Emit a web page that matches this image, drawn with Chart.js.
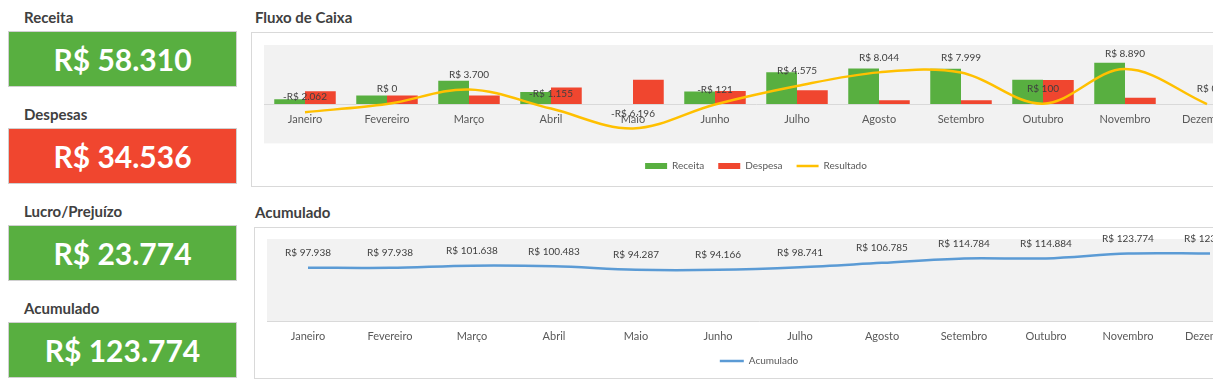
<!DOCTYPE html>
<html>
<head>
<meta charset="utf-8">
<script src="https://cdn.jsdelivr.net/npm/chart.js@4.4.1/dist/chart.umd.min.js"></script>
<style>
  html, body { margin: 0; padding: 0; background: #ffffff; width: 1213px; height: 389px; overflow: hidden; }
  body { position: relative; font-family: Lato, "Open Sans", sans-serif; }
  .lbl { position: absolute; left: 24px; font-weight: 700; font-size: 15px; line-height: 20px; color: #404040; white-space: nowrap; }
  .box { position: absolute; left: 8px; width: 229px; height: 56px; box-sizing: border-box; border: 1px solid #D0D0D0;
         color: #fff; font-weight: 700; font-size: 30px; display: flex; align-items: center; justify-content: center; }
  .title { position: absolute; font-weight: 700; font-size: 15px; line-height: 20px; color: #404040; white-space: nowrap; }
  .frame { position: absolute; box-sizing: border-box; border: 1px solid #D9D9D9; background: #fff; }
  .frame canvas { position: absolute; left: 0; top: 0; }
</style>
</head>
<body>
<div id="kpis"></div>
<div class="title" style="left:255px; top:7px;">Fluxo de Caixa</div>
<div class="frame" style="left:251px; top:32px; width:1014px; height:155px;"><canvas id="c1" width="1012" height="153"></canvas></div>
<div class="title" style="left:255px; top:202px;">Acumulado</div>
<div class="frame" style="left:254px; top:227px; width:1012px; height:152px;"><canvas id="c2" width="1010" height="150"></canvas></div>
<script>
// ---- Data ----
const months = ['Janeiro','Fevereiro','Março','Abril','Maio','Junho','Julho','Agosto','Setembro','Outubro','Novembro','Dezembro'];
const receita   = [1200, 2200, 5900, 3045, 0, 3200, 8100, 9000, 8960, 6200, 10505, 0];
const despesa   = [3262, 2200, 2200, 4200, 6196, 3321, 3525, 956, 961, 6100, 1615, 0];
const resultado = [-2062, 0, 3700, -1155, -6196, -121, 4575, 8044, 7999, 100, 8890, 0];
const acumulado = [97938, 97938, 101638, 100483, 94287, 94166, 98741, 106785, 114784, 114884, 123774, 123774];
const kpiLabels = ['Receita', 'Despesas', 'Lucro/Prejuízo', 'Acumulado'];
const kpiValues = [58310, 34536, 23774, 123774];
const kpiColors = ['#58AF40', '#F0462F', '#58AF40', '#58AF40'];

const GREEN = '#58AF40', RED = '#F0462F', YELLOW = '#FFC000', BLUE = '#5B9BD5';

function brl(v) {
  const s = Math.abs(Math.round(v)).toString().replace(/\B(?=(\d{3})+(?!\d))/g, '.');
  return (v < 0 ? '-R$ ' : 'R$ ') + s;
}

// KPI boxes
const kpiDiv = document.getElementById('kpis');
kpiLabels.forEach((l, i) => {
  const top = 31 + i * 97;
  const a = document.createElement('div');
  a.className = 'lbl'; a.style.top = (top - 24) + 'px'; a.textContent = l;
  const b = document.createElement('div');
  b.className = 'box'; b.style.top = top + 'px'; b.style.background = kpiColors[i]; b.textContent = brl(kpiValues[i]);
  kpiDiv.appendChild(a); kpiDiv.appendChild(b);
});

const plotBg = {
  id: 'plotBg',
  beforeDraw(chart) {
    const {ctx, chartArea: a} = chart;
    ctx.save(); ctx.fillStyle = '#F2F2F2';
    ctx.fillRect(a.left, a.top, a.right - a.left, a.bottom - a.top);
    ctx.restore();
  }
};
const valueLabels = {
  id: 'valueLabels',
  afterDatasetsDraw(chart, args, opts) {
    const meta = chart.getDatasetMeta(opts.datasetIndex);
    const vals = chart.data.datasets[opts.datasetIndex].data;
    const ctx = chart.ctx;
    ctx.save();
    ctx.font = '10px Lato, "Open Sans", sans-serif';
    ctx.fillStyle = '#404040';
    ctx.textAlign = 'center'; ctx.textBaseline = 'middle';
    meta.data.forEach((pt, i) => ctx.fillText(brl(vals[i]), pt.x, pt.y - opts.offset));
    ctx.restore();
  }
};
function legendItems(chart) {
  return chart.data.datasets.map((ds, i) => {
    const isLine = ds.type === 'line' || chart.config.type === 'line' && !ds.type;
    const c = isLine ? ds.borderColor : ds.backgroundColor;
    return { text: ds.label, fillStyle: c, strokeStyle: c, lineWidth: isLine ? 2.5 : 0,
             pointStyle: isLine ? 'line' : 'rect', hidden: false, datasetIndex: i, fontColor: '#595959' };
  });
}
const FONT = 'Lato, "Open Sans", sans-serif';
Chart.defaults.font.family = FONT;

new Chart(document.getElementById('c1'), {
  type: 'bar',
  data: {
    labels: months,
    datasets: [
      { label: 'Receita', data: receita, backgroundColor: GREEN, order: 2, categoryPercentage: 0.75, barPercentage: 1.0 },
      { label: 'Despesa', data: despesa, backgroundColor: RED, order: 2, categoryPercentage: 0.75, barPercentage: 1.0 },
      { label: 'Resultado', type: 'line', data: resultado, borderColor: YELLOW, backgroundColor: YELLOW, borderWidth: 2.5,
        pointRadius: 0, tension: 0.35, order: 1, clip: false }
    ]
  },
  options: {
    responsive: false, animation: false, devicePixelRatio: 1,
    layout: { padding: { left: 12, right: 16, top: 12, bottom: 5 } },
    plugins: {
      legend: { position: 'bottom',
                title: { display: true, text: '', padding: 0, font: { size: 3 } },
                labels: { generateLabels: legendItems, usePointStyle: true, pointStyleWidth: 22, boxHeight: 6,
                 padding: 14, color: '#595959', font: { size: 10 } } },
      tooltip: { enabled: false },
      valueLabels: { datasetIndex: 2, offset: 15 }
    },
    scales: {
      x: { position: { y: 0 }, offset: true, grid: { display: false, drawTicks: false },
           border: { display: true, color: '#D9D9D9', width: 1 },
           ticks: { color: '#595959', font: { size: 11 }, padding: 9, autoSkip: false, maxRotation: 0 } },
      y: { display: false, min: -10000, max: 15000 }
    }
  },
  plugins: [plotBg, valueLabels]
});

new Chart(document.getElementById('c2'), {
  type: 'line',
  data: {
    labels: months,
    datasets: [
      { label: 'Acumulado', data: acumulado, borderColor: BLUE, backgroundColor: BLUE, borderWidth: 2.5, pointRadius: 0, tension: 0.35 }
    ]
  },
  options: {
    responsive: false, animation: false, devicePixelRatio: 1,
    layout: { padding: { left: 12, right: 14, top: 11, bottom: 2 } },
    plugins: {
      legend: { position: 'bottom', labels: { generateLabels: legendItems, usePointStyle: true, pointStyleWidth: 24, boxHeight: 6,
                 padding: 5, color: '#595959', font: { size: 10 } } },
      tooltip: { enabled: false },
      valueLabels: { datasetIndex: 0, offset: 15 }
    },
    scales: {
      x: { offset: true, grid: { display: false, drawTicks: false },
           border: { display: true, color: '#D9D9D9', width: 1 },
           ticks: { color: '#595959', font: { size: 11 }, padding: 8, autoSkip: false, maxRotation: 0 } },
      y: { display: false, min: 0, max: 150000 }
    }
  },
  plugins: [plotBg, valueLabels]
});
</script>
</body>
</html>
